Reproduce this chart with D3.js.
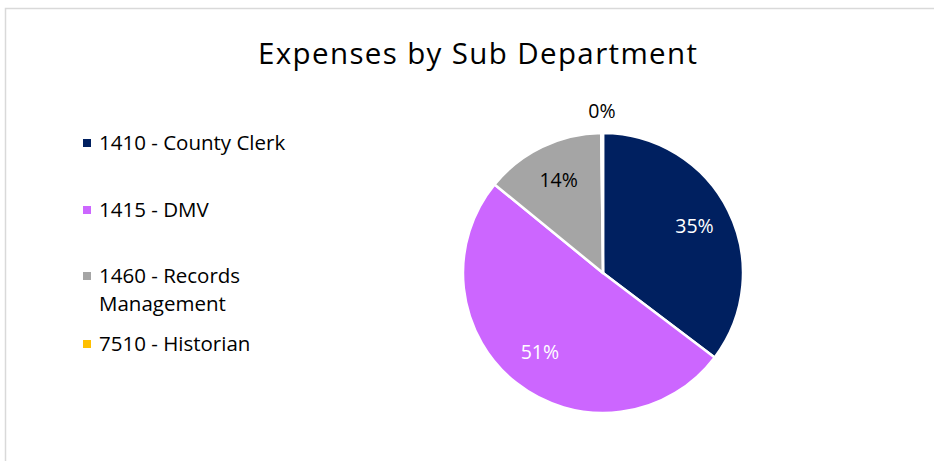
<!DOCTYPE html>
<html>
<head>
<meta charset="utf-8">
<script src="https://cdn.jsdelivr.net/npm/d3@7"></script>
<style>
  body { margin: 0; background: #fff; }
  text { font-family: "Open Sans", "Noto Sans", sans-serif; }
</style>
</head>
<body>
<div id="chart"></div>
<script>
const categories = ["1410 - County Clerk", "1415 - DMV", "1460 - Records Management", "7510 - Historian"];
const legendLines = [["1410 - County Clerk"], ["1415 - DMV"], ["1460 - Records", "Management"], ["7510 - Historian"]];
const shares = [35.3, 50.6, 13.9, 0.2];
const colors = ["#002060", "#CC66FF", "#A5A5A5", "#FFC000"];
const labelColors = ["#ffffff", "#ffffff", "#000000", "#000000"];

const width = 934, height = 461;
const svg = d3.select("#chart").append("svg")
  .attr("width", width)
  .attr("height", height);

// chart area border (only top and left visible)
svg.append("rect")
  .attr("x", 5.5).attr("y", 8.5)
  .attr("width", 1000).attr("height", 1000)
  .attr("fill", "none")
  .attr("stroke", "#d9d9d9")
  .attr("stroke-width", 1.5);

svg.append("text")
  .attr("x", 477.5).attr("y", 64)
  .attr("text-anchor", "middle")
  .attr("font-size", 29.5)
  .attr("textLength", 439)
  .attr("lengthAdjust", "spacing")
  .attr("fill", "#000")
  .text("Expenses by Sub Department");

const cx = 603, cy = 273, r = 140;
const data = categories.map((c, i) => ({ name: c, value: shares[i], color: colors[i], lc: labelColors[i] }));
const total = d3.sum(shares);

const pie = d3.pie().sort(null).value(d => d.value);
const arc = d3.arc().innerRadius(0).outerRadius(r);
const labelArc = d3.arc().innerRadius(r * 0.73).outerRadius(r * 0.73);
const outArc = d3.arc().innerRadius(r + 21).outerRadius(r + 21);

const g = svg.append("g").attr("transform", `translate(${cx},${cy})`);
const arcs = pie(data);

g.selectAll("path.slice")
  .data(arcs)
  .enter().append("path")
  .attr("class", "slice")
  .attr("d", arc)
  .attr("fill", d => d.data.color)
  .attr("stroke", "#fff")
  .attr("stroke-width", 2.5)
  .attr("stroke-linejoin", "round");

g.selectAll("text.lbl")
  .data(arcs)
  .enter().append("text")
  .attr("class", "lbl")
  .attr("transform", d => {
    const small = d.data.value / total < 0.02;
    return `translate(${(small ? outArc : labelArc).centroid(d)})`;
  })
  .attr("text-anchor", "middle")
  .attr("dy", "0.3em")
  .attr("font-size", 19.5)
  .attr("fill", d => d.data.value / total < 0.02 ? "#000" : d.data.lc)
  .text(d => Math.round(d.data.value / total * 100) + "%");

// legend
const legendY = [143, 210, 276, 344];
const lg = svg.append("g");
data.forEach((d, i) => {
  lg.append("rect")
    .attr("x", 83).attr("y", legendY[i] - 4)
    .attr("width", 8).attr("height", 8)
    .attr("fill", d.color);
  legendLines[i].forEach((line, j) => {
    lg.append("text")
      .attr("x", 99).attr("y", legendY[i] + j * 28)
      .attr("dy", "0.35em")
      .attr("font-size", 20.5)
      .attr("fill", "#000")
      .text(line);
  });
});
</script>
</body>
</html>
